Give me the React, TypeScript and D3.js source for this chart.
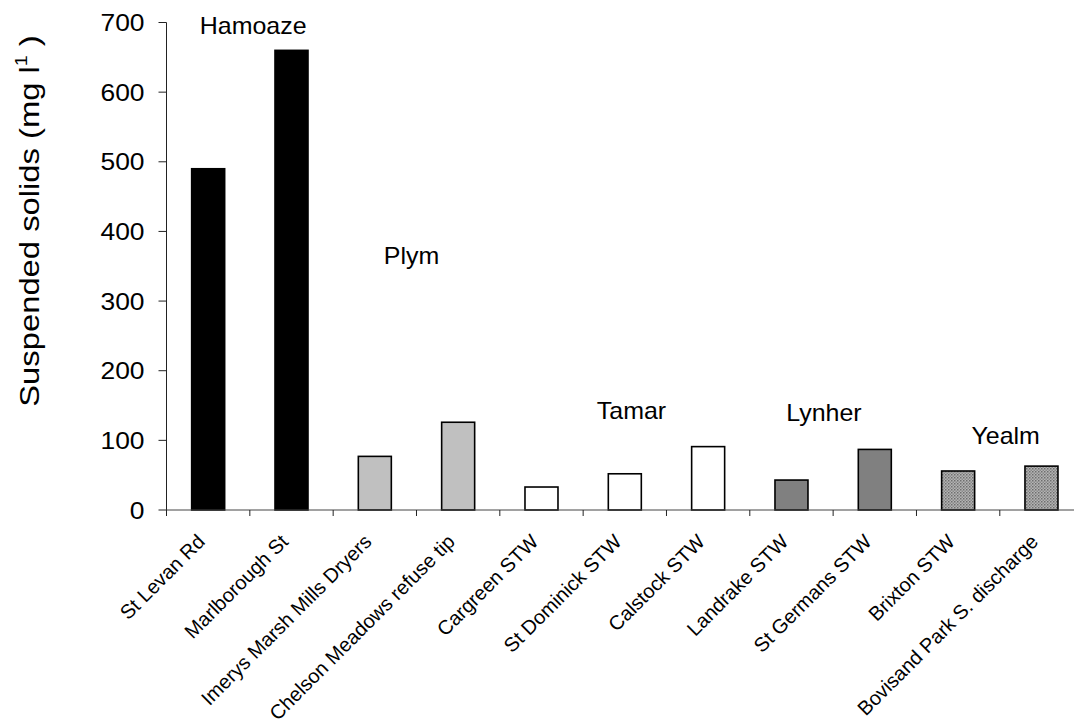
import React from "react";
import * as d3 from "d3";

// Discharge sites along the x axis, grouped by receiving estuary
const sites = [
  "St Levan Rd",
  "Marlborough St",
  "Imerys Marsh Mills Dryers",
  "Chelson Meadows refuse tip",
  "Cargreen STW",
  "St Dominick STW",
  "Calstock STW",
  "Landrake STW",
  "St Germans STW",
  "Brixton STW",
  "Bovisand Park S. discharge",
];

// Suspended solids, mg l-1
const solids = [490, 660, 77, 126, 33, 52, 91, 43, 87, 56, 63];

// Estuary of each site
const estuaryOf = [
  "Hamoaze", "Hamoaze",
  "Plym", "Plym",
  "Tamar", "Tamar", "Tamar",
  "Lynher", "Lynher",
  "Yealm", "Yealm",
];

const yTicks = [0, 100, 200, 300, 400, 500, 600, 700];

// Estuary captions: name, position along the site axis (in site units), height (mg l-1)
const estuaryNames = ["Hamoaze", "Plym", "Tamar", "Lynher", "Yealm"];
const estuaryLabelAt = [1.04, 2.94, 5.58, 7.89, 10.07];
const estuaryLabelLevel = [683, 353, 131, 128, 95];

const W = 1074;
const H = 722;
const FONT = "'Liberation Sans', Arial, Helvetica, sans-serif";

const fills: Record<string, string> = {
  Hamoaze: "#000000",
  Plym: "#c0c0c0",
  Tamar: "#ffffff",
  Lynher: "#808080",
  Yealm: "url(#dots)",
};

export default function App() {
  const x0 = 166.5;
  const step = 83.33;
  const x = d3
    .scaleBand<string>()
    .domain(sites)
    .range([x0, x0 + step * sites.length])
    .paddingInner(0)
    .paddingOuter(0);
  const siteUnits = d3.scaleLinear().domain([0, sites.length]).range([x0, x0 + step * sites.length]);
  const y = d3.scaleLinear().domain([0, 700]).range([510, 22.5]);
  const barW = 33;
  const base = y(0);

  return (
    <svg width={W} height={H} style={{ display: "block", position: "absolute", left: 0, top: 0 }} fontFamily={FONT}>
      <defs>
        <pattern id="dots" width="3" height="3" patternUnits="userSpaceOnUse">
          <rect width="3" height="3" fill="#b4b4b4" />
          <rect width="1.5" height="1.5" fill="#6e6e6e" />
          <rect x="1.5" y="1.5" width="1.5" height="1.5" fill="#8a8a8a" />
        </pattern>
      </defs>
      <rect width={W} height={H} fill="#fff" />

      {/* bars */}
      {sites.map((s, i) => (
        <rect
          key={s}
          x={x(s)! + x.bandwidth() / 2 - barW / 2}
          y={y(solids[i])}
          width={barW}
          height={base - y(solids[i])}
          fill={fills[estuaryOf[i]]}
          stroke="#000"
          strokeWidth={1.6}
        />
      ))}

      {/* y axis */}
      <line x1={x0} x2={x0} y1={y(700)} y2={base + 6} stroke="#222" strokeWidth={1} />
      {yTicks.map((t) => (
        <g key={t}>
          <line x1={x0 - 8} x2={x0} y1={y(t)} y2={y(t)} stroke="#222" strokeWidth={1} />
          <text
            transform={`translate(${x0 - 22},${y(t)}) scale(1.1,1)`}
            dy="0.36em"
            textAnchor="end"
            fontSize={24}
            fill="#000"
          >
            {t}
          </text>
        </g>
      ))}

      {/* x axis */}
      <line x1={x0} x2={x0 + step * sites.length} y1={base} y2={base} stroke="#444" strokeWidth={1} />
      {d3.range(sites.length + 1).map((k) => (
        <line key={k} x1={siteUnits(k)} x2={siteUnits(k)} y1={base} y2={base + 6} stroke="#222" strokeWidth={1} />
      ))}
      {sites.map((s) => {
        const cx = x(s)! + x.bandwidth() / 2;
        return (
          <text
            key={s}
            transform={`translate(${cx - 2},${base + 33}) rotate(-45)`}
            textAnchor="end"
            fontSize={20}
            fill="#000"
          >
            {s}
          </text>
        );
      })}

      {/* y axis title */}
      <text
        transform={`translate(39,221) rotate(-90) scale(1.15,1)`}
        textAnchor="middle"
        fontSize={28.5}
        fill="#000"
      >
        Suspended solids (mg l
        <tspan dy={-12} fontSize={17}>1</tspan>
        <tspan dy={12}> )</tspan>
      </text>

      {/* estuary captions */}
      {estuaryNames.map((n, i) => (
        <text
          key={n}
          transform={`translate(${siteUnits(estuaryLabelAt[i])},${y(estuaryLabelLevel[i])}) scale(1.04,1)`}
          textAnchor="middle"
          fontSize={24}
          fill="#000"
        >
          {n}
        </text>
      ))}
    </svg>
  );
}
